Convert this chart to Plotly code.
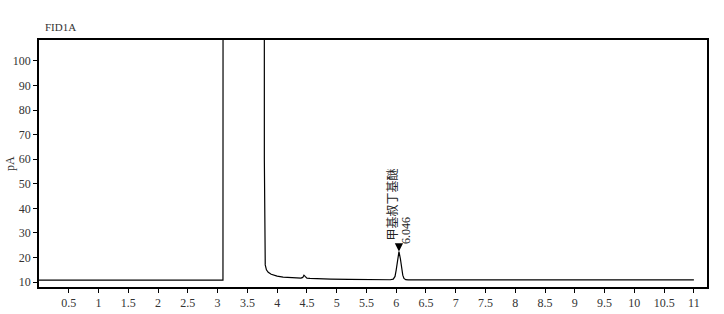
import plotly.graph_objects as go

# Retention time (min) and detector signal (pA)
rt = [0.00, 0.50, 1.00, 1.50, 2.00, 2.06, 2.09, 2.12, 2.20, 2.60, 3.00, 3.09, 3.10,
      3.78, 3.785, 3.79, 3.80, 3.82, 3.85, 3.90, 3.95, 4.00, 4.10, 4.20, 4.30, 4.40,
      4.43, 4.45, 4.47, 4.50, 4.55, 4.70, 4.90, 5.20, 5.50, 5.80, 5.90, 5.95, 5.98,
      6.00, 6.02, 6.046, 6.07, 6.09, 6.11, 6.13, 6.16, 6.20, 6.50, 7.00, 7.50, 7.80,
      7.85, 7.90, 8.50, 9.50, 10.50, 11.00]
signal = [10.8, 10.8, 10.8, 10.8, 10.8, 10.9, 11.1, 10.9, 10.8, 10.8, 10.8, 10.8, 900.0,
          900.0, 60.0, 25.0, 17.0, 15.0, 14.0, 13.2, 12.7, 12.4, 12.0, 11.8, 11.7, 11.6,
          11.9, 12.8, 12.3, 11.6, 11.5, 11.3, 11.2, 11.1, 11.0, 10.95, 10.95, 11.2, 12.3,
          15.0, 19.3, 22.4, 19.5, 15.5, 12.8, 11.5, 11.0, 10.9, 10.9, 10.9, 10.9, 10.9,
          11.1, 10.9, 10.9, 10.9, 10.9, 10.9]

peak_rt = [6.046]
peak_height = [22.4]
peak_name = ["甲基叔丁基醚"]
peak_label = ["6.046"]

x_ticks = [0.5, 1, 1.5, 2, 2.5, 3, 3.5, 4, 4.5, 5, 5.5, 6, 6.5, 7, 7.5, 8, 8.5, 9,
           9.5, 10, 10.5, 11]
x_tick_text = ["0.5", "1", "1.5", "2", "2.5", "3", "3.5", "4", "4.5", "5", "5.5", "6",
               "6.5", "7", "7.5", "8", "8.5", "9", "9.5", "10", "10.5", "11"]
y_ticks = [10, 20, 30, 40, 50, 60, 70, 80, 90, 100]

serif = "Liberation Serif"
cjk = "Noto Sans CJK SC"

fig = go.Figure()
fig.add_trace(go.Scatter(x=rt, y=signal, mode="lines",
                         line=dict(color="black", width=1.2),
                         hoverinfo="skip", showlegend=False))

for xv, yv, name, lab in zip(peak_rt, peak_height, peak_name, peak_label):
    fig.add_annotation(x=xv, y=yv, xref="x", yref="y", text="", showarrow=True,
                       ax=0, ay=-9, arrowhead=2, arrowsize=1.5, arrowwidth=1.1,
                       arrowcolor="black")
    fig.add_annotation(x=xv, y=yv, xref="x", yref="y", text=name, showarrow=False,
                       textangle=-90, xanchor="center", yanchor="bottom",
                       xshift=-7, yshift=9,
                       font=dict(family=cjk, size=12, color="#222"))
    fig.add_annotation(x=xv, y=yv, xref="x", yref="y", text=lab, showarrow=False,
                       textangle=-90, xanchor="center", yanchor="bottom",
                       xshift=7, yshift=6,
                       font=dict(family=serif, size=12, color="#222"))

fig.add_annotation(x=0.006, y=1.052, xref="paper", yref="paper", text="FID1A",
                   showarrow=False, xanchor="left", yanchor="middle",
                   font=dict(family=serif, size=11, color="#333"))
fig.add_annotation(x=-0.044, y=0.5, xref="paper", yref="paper", text="pA",
                   showarrow=False, textangle=-90, xanchor="center", yanchor="middle",
                   font=dict(family=serif, size=12, color="#333"))

fig.update_xaxes(range=[0, 11.22], tickmode="array", tickvals=x_ticks,
                 ticktext=x_tick_text, ticks="outside", ticklen=4, tickwidth=1,
                 tickcolor="black", showline=True, linecolor="black", linewidth=1.5,
                 mirror=True, showgrid=False, zeroline=False, automargin=False,
                 tickfont=dict(family=serif, size=12, color="#333"))
fig.update_yaxes(range=[8, 108.5], tickmode="array", tickvals=y_ticks,
                 ticks="outside", ticklen=4, tickwidth=1, tickcolor="black",
                 showline=True, linecolor="black", linewidth=1.5, mirror=True,
                 showgrid=False, zeroline=False, automargin=False,
                 tickfont=dict(family=serif, size=12, color="#333"))

fig.update_layout(width=724, height=314, margin=dict(l=39, r=17, t=40, b=27),
                  paper_bgcolor="white", plot_bgcolor="white")

fig.write_html("out.html")
